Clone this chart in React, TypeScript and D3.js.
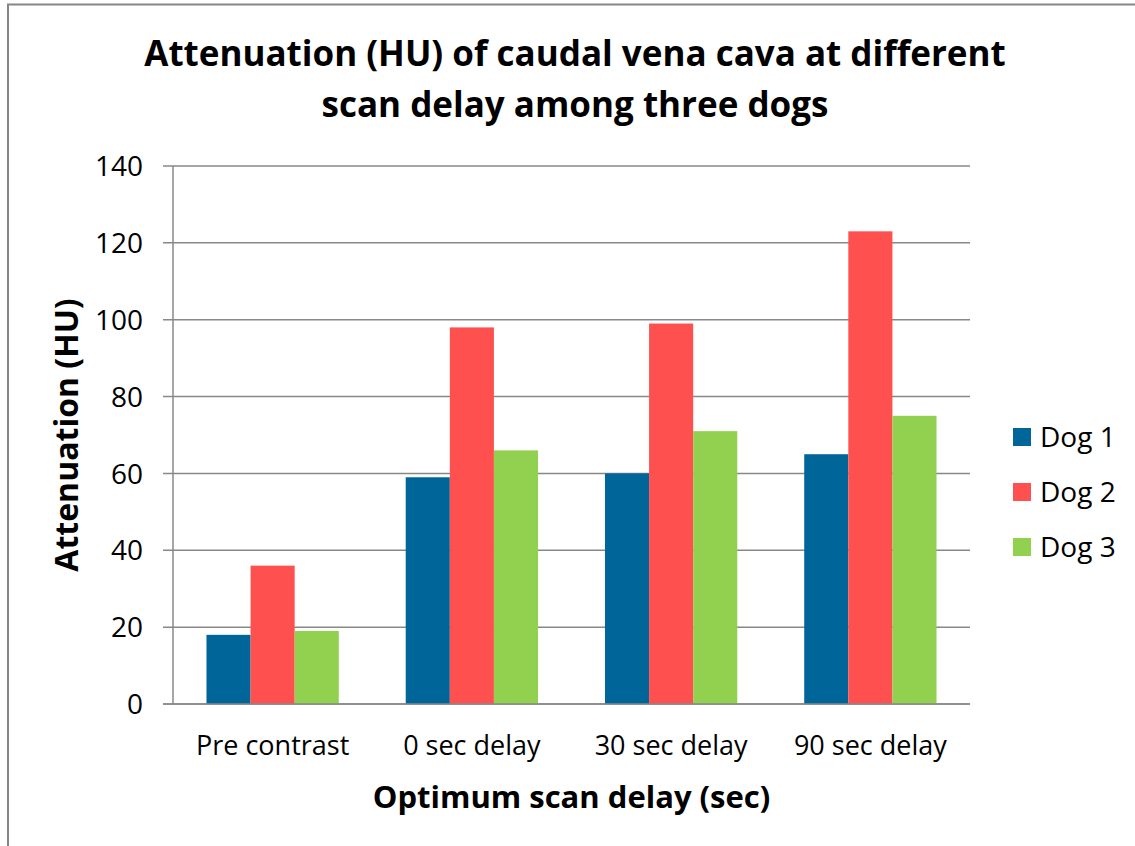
import React from 'react';
import * as d3 from 'd3';

const categories = ['Pre contrast', '0 sec delay', '30 sec delay', '90 sec delay'];
const seriesNames = ['Dog 1', 'Dog 2', 'Dog 3'];
const dog1 = [18, 59, 60, 65];
const dog2 = [36, 98, 99, 123];
const dog3 = [19, 66, 71, 75];
const seriesColors = ['#00669A', '#FF5050', '#92D050'];
const yTicks = [0, 20, 40, 60, 80, 100, 120, 140];
const titleLines = ['Attenuation (HU) of caudal vena cava at different', 'scan delay among three dogs'];

const W = 1135;
const H = 846;
const FONT = '"Open Sans", "DejaVu Sans", sans-serif';

export default function App() {
  const series = [dog1, dog2, dog3];
  const left = 173, right = 970, top = 166, bottom = 704;

  const x = d3.scaleBand<string>().domain(categories).range([left, right]).paddingInner(0.336).paddingOuter(0.168);
  const x1 = d3.scaleBand<string>().domain(seriesNames).range([0, x.bandwidth()]);
  const y = d3.scaleLinear().domain([0, 140]).range([bottom, top]);

  return (
    <svg width={W} height={H} style={{ position: 'absolute', left: 0, top: 0, background: '#fff' }}>
      <rect x={8} y={4.5} width={W + 20} height={H + 20} fill="#fff" stroke="#868686" strokeWidth={2} />
      {/* title */}
      {titleLines.map((t, i) => (
        <text key={t} x={575} y={66 + i * 51} textAnchor="middle" fontFamily={FONT} fontWeight="bold" fontSize={35} fill="#000">
          {t}
        </text>
      ))}
      {/* grid + y ticks */}
      {yTicks.map(v => (
        <g key={v}>
          <line x1={163} x2={right} y1={y(v)} y2={y(v)} stroke="#888" strokeWidth={1.5} />
          <text x={143} y={y(v)} dy="0.36em" textAnchor="end" fontFamily={FONT} fontSize={28} fill="#000">{v}</text>
        </g>
      ))}
      {/* bars */}
      {categories.map((c, ci) => (
        <g key={c} transform={`translate(${x(c)},0)`}>
          {series.map((s, si) => (
            <rect key={si} x={x1(seriesNames[si])} y={y(s[ci])} width={x1.bandwidth()} height={y(0) - y(s[ci])} fill={seriesColors[si]} />
          ))}
        </g>
      ))}
      <line x1={left} x2={left} y1={top} y2={bottom} stroke="#888" strokeWidth={1.5} />
      <line x1={163} x2={right} y1={bottom} y2={bottom} stroke="#888" strokeWidth={1.5} />
      {/* x labels */}
      {categories.map(c => (
        <text key={c} x={(x(c) ?? 0) + x.bandwidth() / 2} y={755} textAnchor="middle" fontFamily={FONT} fontSize={27} fill="#000">{c}</text>
      ))}
      <text x={571.5} y={808} textAnchor="middle" fontFamily={FONT} fontWeight="bold" fontSize={31} fill="#000">Optimum scan delay (sec)</text>
      <text transform={`translate(78,${(top + bottom) / 2}) rotate(-90)`} textAnchor="middle" fontFamily={FONT} fontWeight="bold" fontSize={32} fill="#000">Attenuation (HU)</text>
      {/* legend */}
      {seriesNames.map((n, i) => (
        <g key={n} transform={`translate(1013,${428 + i * 55})`}>
          <rect width={18} height={18} fill={seriesColors[i]} />
          <text x={27} y={9} dy="0.36em" fontFamily={FONT} fontSize={28} fill="#000">{n}</text>
        </g>
      ))}
    </svg>
  );
}
